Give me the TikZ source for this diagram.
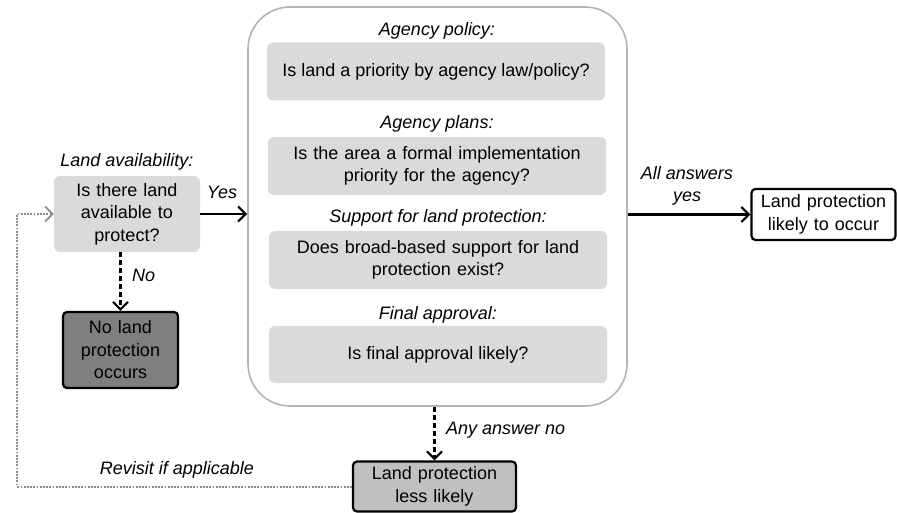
\documentclass[tikz,border=0pt]{standalone}
\usepackage{fontspec}
\setmainfont{Liberation Sans}
\usetikzlibrary{arrows.meta}
\definecolor{qfill}{HTML}{DADADA}
\definecolor{darkfill}{HTML}{7F7F7F}
\definecolor{midfill}{HTML}{C0C0C0}
\definecolor{bigborder}{HTML}{B4B4B4}
\definecolor{dotgray}{HTML}{8C8C8C}
\tikzset{
  every node/.style={font=\fontsize{18}{22.5}\selectfont, inner sep=0pt},
  qbox/.style={fill=qfill, rounded corners=6pt, align=center},
  endbox/.style={draw=black, line width=2.2pt, rounded corners=4pt, align=center},
  lbl/.style={font=\fontsize{18}{22.5}\selectfont\itshape, align=center},
  tip/.style={-{Straight Barb[length=7.5pt,width=15pt,line width=2.2pt]}},
  solidarrow/.style={tip, line width=2.2pt, black},
  dasharrow/.style={tip, line width=2.2pt, black, dash pattern=on 5pt off 3pt},
  dotarrow/.style={-{Straight Barb[length=7.5pt,width=15pt,line width=1.8pt]}, line width=2pt, dotgray, dash pattern=on 1.8pt off 1.4pt},
}
\begin{document}
\begin{tikzpicture}[x=1pt,y=-1pt]
\useasboundingbox (0,0) rectangle (897,513);
% big container
\node[draw=bigborder, line width=1.6pt, fill=white, rounded corners=42pt,
      minimum width=379pt, minimum height=399pt] (big) at (437.5,206.5) {};
\node[lbl] (l1) at (437,31) {Agency policy:};
\node[qbox, minimum width=338pt, minimum height=58pt] (b1) at (436,71.5) {Is land a priority by agency law/policy?};
\node[lbl] (l2) at (437,124) {Agency plans:};
\node[qbox, minimum width=338pt, minimum height=58pt, text width=330pt] (b2) at (437,166) {Is the area a formal implementation\\priority for the agency?};
\node[lbl] (l3) at (438,218) {Support for land protection:};
\node[qbox, minimum width=338pt, minimum height=58pt, text width=330pt] (b3) at (438,260) {Does broad-based support for land\\protection exist?};
\node[lbl] (l4) at (438,315) {Final approval:};
\node[qbox, minimum width=338pt, minimum height=57pt] (b4) at (438,354.5) {Is final approval likely?};
% left side
\node[lbl] (lla) at (127,162) {Land availability:};
\node[qbox, minimum width=146pt, minimum height=76pt, text width=140pt] (la) at (127,214) {Is there land\\available to\\protect?};
\node[endbox, fill=darkfill, minimum width=115pt, minimum height=76pt, text width=110pt] (no) at (120.5,350) {No land\\protection\\occurs};
% right side
\node[endbox, fill=white, minimum width=144pt, minimum height=51pt, text width=140pt] (likely) at (823.5,214.5) {Land protection\\likely to occur};
% bottom
\node[endbox, fill=midfill, minimum width=163pt, minimum height=50pt, text width=158pt] (less) at (434.5,486.5) {Land protection\\less likely};
% connectors
\draw[solidarrow] (la.east) -- (la.east -| big.west);
\node[lbl] (yes) at (222,192) {Yes};
\draw[dasharrow] (no.north |- la.south) -- (no.north);
\node[lbl, anchor=west] (nolbl) at (132,275) {No};
\draw[solidarrow] (likely.west -| big.east) -- (likely.west);
\node[lbl] (allyes) at (687,186) {All answers\\yes};
\draw[dasharrow] (less.north |- big.south) -- (less.north);
\node[lbl, anchor=west] (anyno) at (446,430) {Any answer no};
\coordinate (fb) at (17,486.5);
\draw[dotarrow] (less.west) -- (fb) |- (la.west);
\node[lbl] (rev) at (177,470) {Revisit if applicable};
\end{tikzpicture}
\end{document}
